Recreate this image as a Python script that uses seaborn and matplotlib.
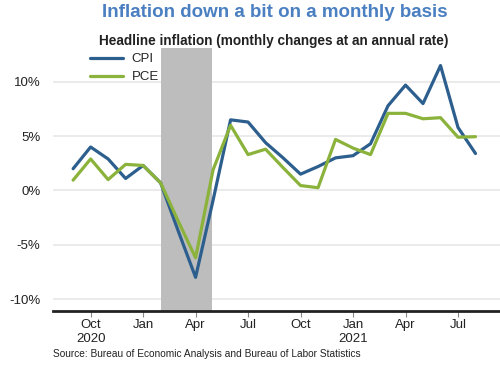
import numpy as np
import pandas as pd
import matplotlib
matplotlib.use("Agg")
import matplotlib.pyplot as plt
import seaborn as sns

# Data: monthly, Sep 2019 .. Aug 2021 (month index 0..23)
months = list(range(24))
cpi = [2.0, 4.0, 2.9, 1.1, 2.3, 0.7, -3.7, -8.0, -0.9, 6.5, 6.3, 4.4,
       3.0, 1.5, 2.2, 3.0, 3.2, 4.3, 7.8, 9.7, 8.0, 11.5, 5.8, 3.4]
pce = [0.95, 2.9, 1.0, 2.4, 2.3, 0.7, -2.8, -6.2, 1.9, 6.0, 3.3, 3.8,
       2.1, 0.45, 0.25, 4.7, 3.9, 3.3, 7.1, 7.1, 6.6, 6.7, 4.9, 4.95]
tick_pos = [1, 4, 7, 10, 13, 16, 19, 22]
tick_labels = ["Oct\n2020", "Jan", "Apr", "Jul", "Oct", "Jan\n2021", "Apr", "Jul"]
y_ticks = [-10, -5, 0, 5, 10]
y_labels = ["-10%", "-5%", "0%", "5%", "10%"]
shade = (5.05, 7.95)

df = pd.DataFrame({
    "month": months * 2,
    "value": cpi + pce,
    "series": ["CPI"] * len(cpi) + ["PCE"] * len(pce),
})

sns.set_theme(style="white")
plt.rcParams["font.family"] = ["Liberation Sans", "DejaVu Sans"]

fig = plt.figure(figsize=(5.0, 3.65), dpi=100)
ax = fig.add_axes([0.106, 0.148, 0.894, 0.72])

for y in y_ticks:
    ax.axhline(y, color="#e9e9e9", lw=1.3, zorder=0)
ax.axvspan(shade[0], shade[1], color="#bdbdbd", lw=0, zorder=1)

sns.lineplot(data=df, x="month", y="value", hue="series",
             palette={"CPI": "#2d5f8e", "PCE": "#8bb33b"},
             linewidth=2.3, ax=ax, zorder=3, legend=True)

ax.set_xlim(-1.15, 24.4)
ax.set_ylim(-11.1, 13.1)
ax.set_xticks(tick_pos)
ax.set_xticklabels(tick_labels, fontsize=9.5, color="#222222")
ax.set_yticks(y_ticks)
ax.set_yticklabels(y_labels, fontsize=9.5, color="#222222")
ax.set_xlabel("")
ax.set_ylabel("")
for s in ["top", "right", "left"]:
    ax.spines[s].set_visible(False)
ax.spines["bottom"].set_color("#222222")
ax.spines["bottom"].set_linewidth(2)
ax.tick_params(axis="x", length=4, width=0.8, color="#888888", pad=2, bottom=True)
ax.tick_params(axis="y", length=0, pad=9)

leg = ax.legend(loc="upper left", bbox_to_anchor=(0.062, 1.017), frameon=False,
                fontsize=9.5, handlelength=2.5, handletextpad=0.65,
                labelspacing=0.45, borderaxespad=0.3)
for line in leg.get_lines():
    line.set_linewidth(2.3)

fig.text(0.55, 0.966, "Inflation down a bit on a monthly basis",
         ha="center", va="center", fontsize=13.5, fontweight="bold",
         color="#4a7fc1")
fig.text(0.548, 0.889, "Headline inflation (monthly changes at an annual rate)",
         ha="center", va="center", fontsize=9.8, fontweight="bold",
         color="#222222")
fig.text(0.106, 0.03, "Source: Bureau of Economic Analysis and Bureau of Labor Statistics",
         ha="left", va="center", fontsize=7.3, color="#222222")

fig.savefig("out.png", dpi=100)
